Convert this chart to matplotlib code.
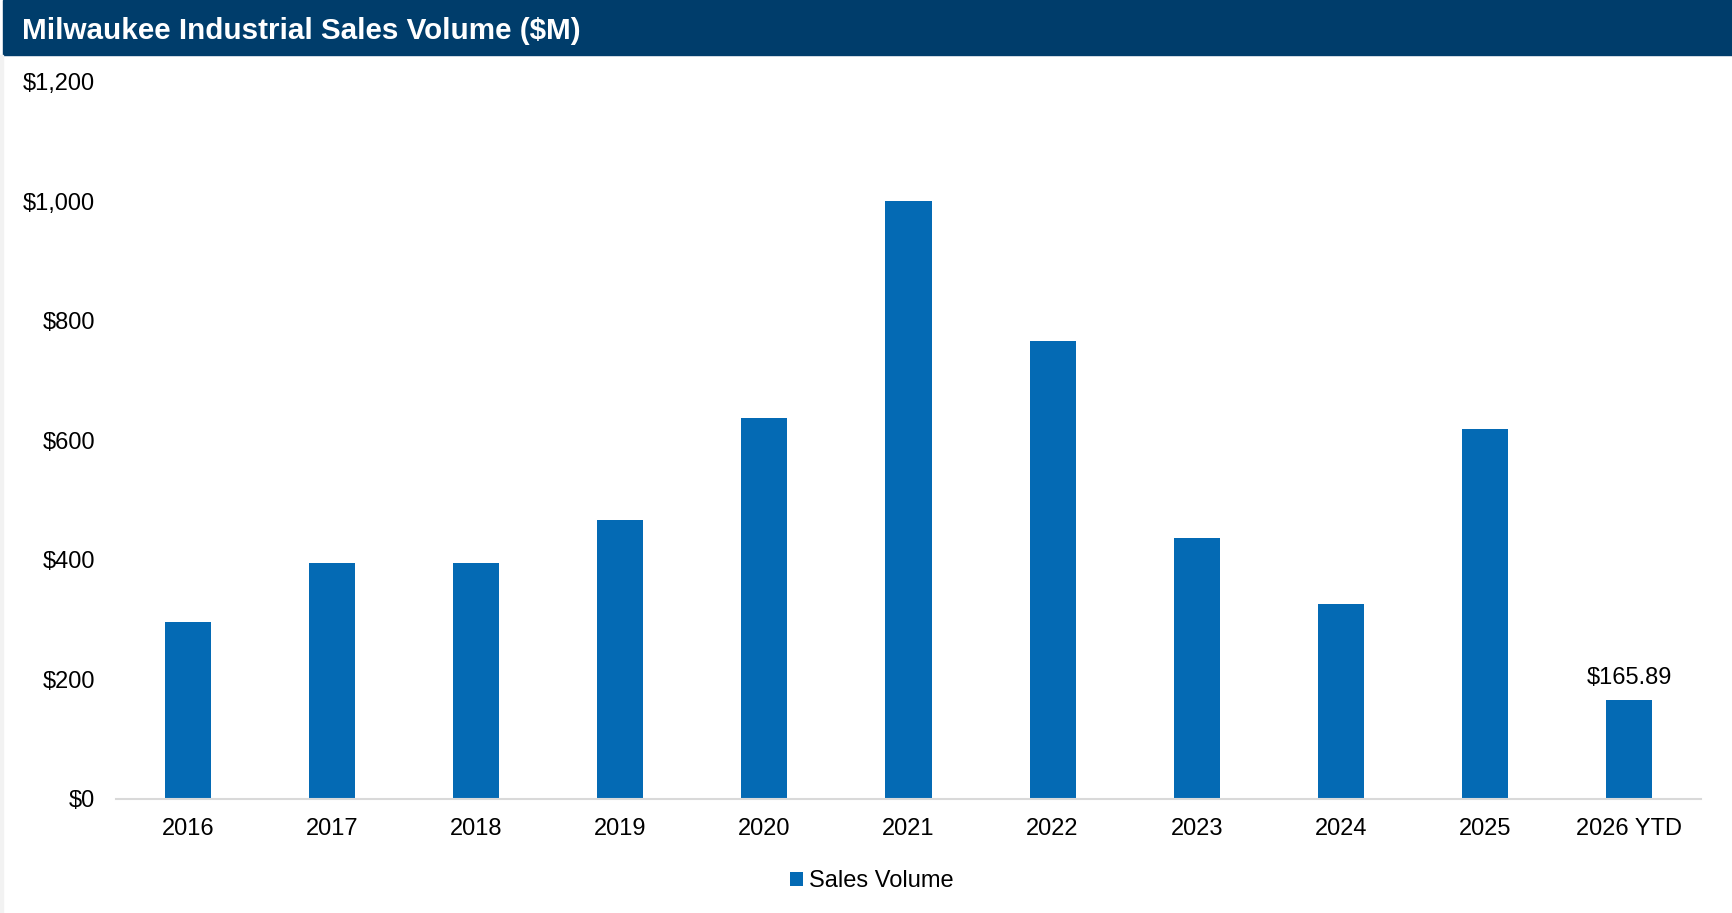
import matplotlib.pyplot as plt
from matplotlib.patches import Rectangle
from matplotlib.ticker import FuncFormatter

# Veri
years = ['2016', '2017', '2018', '2019', '2020', '2021', '2022', '2023', '2024', '2025', '2026 YTD']
sales_volume = [295, 395, 394, 467, 637, 1000, 765, 437, 325, 619, 165.89]

BAR_COLOR = '#046ab4'
HEADER_COLOR = '#003d6b'

plt.rcParams['font.family'] = ['Liberation Sans', 'DejaVu Sans']

W, H = 1732, 913
fig = plt.figure(figsize=(W / 100, H / 100), dpi=100)

# Başlık bandı ve sol kenar çizgisi
fig.patches.append(Rectangle((3 / W, 1 - 55 / H), 1 - 3 / W, 55 / H,
                             transform=fig.transFigure, color=HEADER_COLOR, zorder=0))
fig.patches.append(Rectangle((0, 0), 3 / W, 1 - 55 / H,
                             transform=fig.transFigure, color='#f2f2f2', zorder=0))
fig.text(22 / W, 1 - 31 / H, 'Milwaukee Industrial Sales Volume ($M)',
         color='white', fontsize=21.3, fontweight='bold', va='center', ha='left')

ax = fig.add_axes([116 / W, 114.3 / H, (1701 - 116) / W, (798.7 - 81.5) / H])
x = range(len(years))
bars = ax.bar(x, sales_volume, width=0.32, color=BAR_COLOR, label='Sales Volume', zorder=2)

ax.set_xlim(-0.5, len(years) - 0.5)
ax.set_ylim(0, 1200)
ax.set_yticks(range(0, 1201, 200))
ax.yaxis.set_major_formatter(FuncFormatter(lambda v, p: f'${v:,.0f}'))
ax.set_xticks(list(x))
ax.set_xticklabels(years)

for s in ['top', 'right', 'left']:
    ax.spines[s].set_visible(False)
ax.spines['bottom'].set_color('#d9d9d9')
ax.spines['bottom'].set_linewidth(1.5)
ax.tick_params(axis='both', length=0, labelsize=17, colors='black')
ax.tick_params(axis='y', pad=15)
ax.tick_params(axis='x', pad=14)

# Son çubuğun etiketi
ax.annotate(f'${sales_volume[-1]:.2f}', (len(years) - 1, sales_volume[-1]),
            xytext=(0, 7.5), textcoords='offset points', ha='center', va='bottom',
            fontsize=17)

fig.legend(handles=[bars], labels=['Sales Volume'], loc='center',
           bbox_to_anchor=(872 / W, 1 - 881 / H), frameon=False, fontsize=17,
           handlelength=0.55, handleheight=0.55, handletextpad=0.25)

plt.savefig('out.png', dpi=100)
